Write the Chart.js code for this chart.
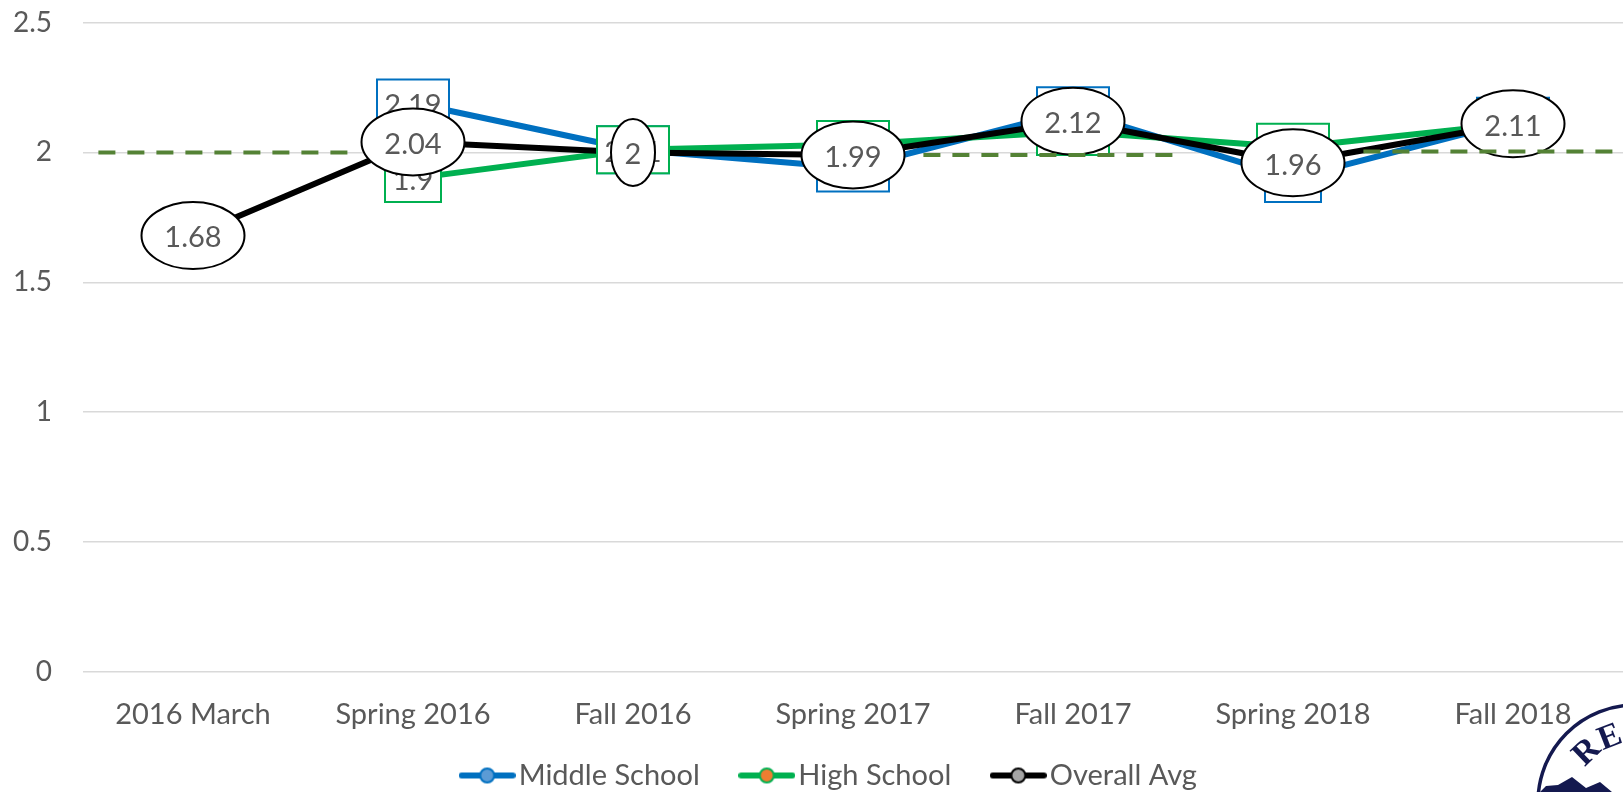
<!DOCTYPE html>
<html><head><meta charset="utf-8">
<style>html,body{margin:0;padding:0;background:#fff;overflow:hidden}#w{position:relative;width:1623px;height:792px}svg{position:absolute;left:0;top:0;pointer-events:none}</style>
<script src="https://cdn.jsdelivr.net/npm/chart.js@4"></script>
</head><body><div id="w"><canvas id="c" width="1623" height="792"></canvas>
<svg width="1623" height="792" viewBox="0 0 1623 792">
<defs><path id="arc" d="M1575 802 A60 60 0 0 1 1635 742 A60 60 0 0 1 1695 802"/></defs>
<circle cx="1635" cy="802" r="97" fill="#fff" stroke="#14194f" stroke-width="3.5"/>
<text font-family="Liberation Serif" font-weight="700" font-size="34" fill="#14194f"><textPath href="#arc" startOffset="36">RED</textPath></text>
<path d="M1540 792 L1546 786 L1558 785 L1572 777 L1586 788 L1600 782 L1612 792 Z" fill="#14194f"/>
</svg></div>
<script>
const categories=["2016 March","Spring 2016","Fall 2016","Spring 2017","Fall 2017","Spring 2018","Fall 2018"];
const middleSchool=[null,2.19,2.01,1.94,2.16,1.9,2.12];
const highSchool=[null,1.9,2.01,2.03,2.08,2.02,2.11];
const overallAvg=[1.68,2.04,2,1.99,2.12,1.96,2.11];
const targetLine=[{x:-0.43,y:2},{x:0.75,y:2},{x:0.8,y:null},{x:3.32,y:1.99},{x:4.49,y:1.99},{x:4.6,y:null},{x:5.32,y:2.003},{x:6.5,y:2.003}];
const yTicks=[0,0.5,1,1.5,2,2.5];
const FONT='Lato, "Open Sans", sans-serif';
const TEXT='#595959';
function legendMark(line,fill,edge){
  const c=document.createElement('canvas');c.width=57;c.height=20;
  const g=c.getContext('2d');g.strokeStyle=line;g.lineWidth=6;g.lineCap='round';
  g.beginPath();g.moveTo(3,10);g.lineTo(54,10);g.stroke();
  g.fillStyle=fill;g.strokeStyle=edge;g.lineWidth=2;g.beginPath();g.arc(28.5,10,7,0,Math.PI*2);g.fill();g.stroke();
  return c;
}
const labelPlugin={id:'labelShapes',
  beforeDatasetDraw(chart,args){
    if(args.index!==3)return;
    const g=chart.ctx;g.save();
    g.font='29px '+FONT;g.textAlign='center';g.textBaseline='middle';
    [0,1,2].forEach(i=>{
      const ds=chart.data.datasets[i],meta=chart.getDatasetMeta(i);
      ds.data.forEach((v,k)=>{
        if(v===null)return;
        const p=meta.data[k],t=String(v);
        g.fillStyle='#fff';g.lineWidth=2;g.strokeStyle=i===2?'#000':ds.borderColor;
        g.beginPath();
        if(i===2){g.ellipse(p.x,p.y,t.length>1?51.5:22,33.5,0,0,Math.PI*2);}
        else{const w=t.length>3?72:56;g.rect(p.x-w/2,p.y-23.5,w,47);}
        g.fill();g.stroke();
        g.fillStyle=TEXT;g.fillText(t,p.x,p.y+2.5);
      });
    });
    g.restore();
  },
  afterLayout(chart){
    const l=chart.legend;if(!l)return;
    l.left+=22;l.right+=22;l.top+=8;l.bottom+=8;
    chart.scales.x.bottom=chart.scales.x.top+70;
  }
};
const line=(label,data,color,fill,edge,order)=>({label,data,borderColor:color,backgroundColor:color,borderWidth:6,pointRadius:0,pointHoverRadius:0,tension:0,borderCapStyle:'round',borderJoinStyle:'round',order,pointStyle:legendMark(color,fill,edge)});
new Chart(document.getElementById('c'),{type:'line',
  data:{labels:categories,datasets:[
    line('Middle School',middleSchool,'#0070C0','#5B9BD5','#0070C0',4),
    line('High School',highSchool,'#00B050','#ED7D31','#00B050',3),
    line('Overall Avg',overallAvg,'#000000','#A5A5A5','#000000',2),
    {label:'Target',data:targetLine,xAxisID:'x2',borderColor:'#548235',backgroundColor:'#548235',borderWidth:4,borderDash:[17,12],pointRadius:0,tension:0,spanGaps:false,order:1,clip:false}
  ]},
  options:{responsive:false,animation:false,
    layout:{padding:{top:22.5,right:0,bottom:0,left:0}},
    plugins:{tooltip:{enabled:false},
      legend:{position:'bottom',labels:{filter:i=>i.text!=='Target',sort:(a,b)=>a.datasetIndex-b.datasetIndex,usePointStyle:true,pointStyleWidth:34,padding:50,color:TEXT,font:{family:FONT,size:29}}}},
    scales:{
      x:{grid:{display:false},border:{display:false},offset:true,ticks:{color:TEXT,font:{family:FONT,size:29},padding:17,maxRotation:0,autoSkip:false},
        afterFit(s){s.paddingLeft=0;s.paddingRight=0;s.height=Math.max(1,120-((s.chart.legend&&s.chart.legend.height)||50));}},
      x2:{type:'linear',display:false,min:-0.5,max:6.5},
      y:{min:0,max:2.5,afterBuildTicks(s){s.ticks=yTicks.map(v=>({value:v}));},
        grid:{color:'#D9D9D9',lineWidth:1.5,drawTicks:false},border:{display:false},
        ticks:{color:TEXT,font:{family:FONT,size:28},padding:31,callback:v=>String(v)},
        afterFit(s){s.width=83;s.paddingTop=0;s.paddingBottom=0;}}
    }},
  plugins:[labelPlugin]});
</script></body></html>
